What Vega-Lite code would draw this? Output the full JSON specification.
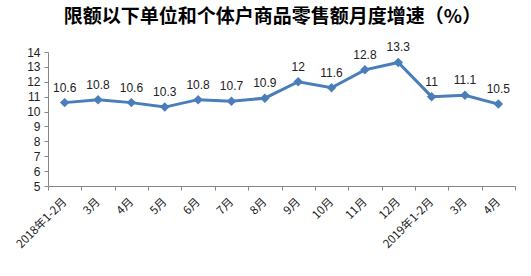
{
  "$schema": "https://vega.github.io/schema/vega-lite/v6.json",
  "autosize": {"type": "none"},
  "width": 467,
  "height": 134,
  "padding": {"left": 48, "top": 52, "right": 16, "bottom": 90},
  "background": "white",
  "title": {
    "text": "限额以下单位和个体户商品零售额月度增速（%）",
    "font": "Noto Sans CJK SC",
    "fontSize": 19,
    "fontWeight": "bold",
    "color": "#000000",
    "anchor": "middle",
    "dx": -9,
    "offset": 14
  },
  "data": {
    "values": [
      {"month": "2018年1-2月", "value": 10.6},
      {"month": "3月", "value": 10.8},
      {"month": "4月", "value": 10.6},
      {"month": "5月", "value": 10.3},
      {"month": "6月", "value": 10.8},
      {"month": "7月", "value": 10.7},
      {"month": "8月", "value": 10.9},
      {"month": "9月", "value": 12},
      {"month": "10月", "value": 11.6},
      {"month": "11月", "value": 12.8},
      {"month": "12月", "value": 13.3},
      {"month": "2019年1-2月", "value": 11},
      {"month": "3月 ", "value": 11.1},
      {"month": "4月 ", "value": 10.5}
    ]
  },
  "encoding": {
    "x": {
      "field": "month",
      "type": "nominal",
      "sort": null,
      "scale": {"paddingInner": 0, "paddingOuter": 0},
      "axis": {
        "title": null,
        "labelAngle": -45,
        "labelAlign": "right",
        "labelBaseline": "middle",
        "labelFont": "Noto Sans CJK SC",
        "labelFontSize": 11.5,
        "labelColor": "#222222",
        "labelPadding": 10,
        "tickBand": "extent",
        "domainColor": "#868686",
        "tickColor": "#868686",
        "tickSize": 4,
        "labelOverlap": false
      }
    },
    "y": {
      "field": "value",
      "type": "quantitative",
      "scale": {"domain": [5, 14], "nice": false, "zero": false},
      "axis": {
        "title": null,
        "values": [5, 6, 7, 8, 9, 10, 11, 12, 13, 14],
        "grid": false,
        "labelFont": "Liberation Sans",
        "labelFontSize": 12,
        "labelColor": "#222222",
        "domainColor": "#868686",
        "tickColor": "#868686",
        "tickSize": 4,
        "labelPadding": 4
      }
    }
  },
  "layer": [
    {
      "mark": {"type": "line", "color": "#4a7ebb", "strokeWidth": 3}
    },
    {
      "mark": {"type": "point", "shape": "diamond", "filled": true, "color": "#4a7ebb", "opacity": 1, "size": 90}
    },
    {
      "mark": {"type": "text", "dy": -15, "font": "Liberation Sans", "fontSize": 12, "color": "#222222"},
      "encoding": {"text": {"field": "value", "type": "quantitative"}}
    }
  ],
  "config": {"view": {"stroke": null}}
}
